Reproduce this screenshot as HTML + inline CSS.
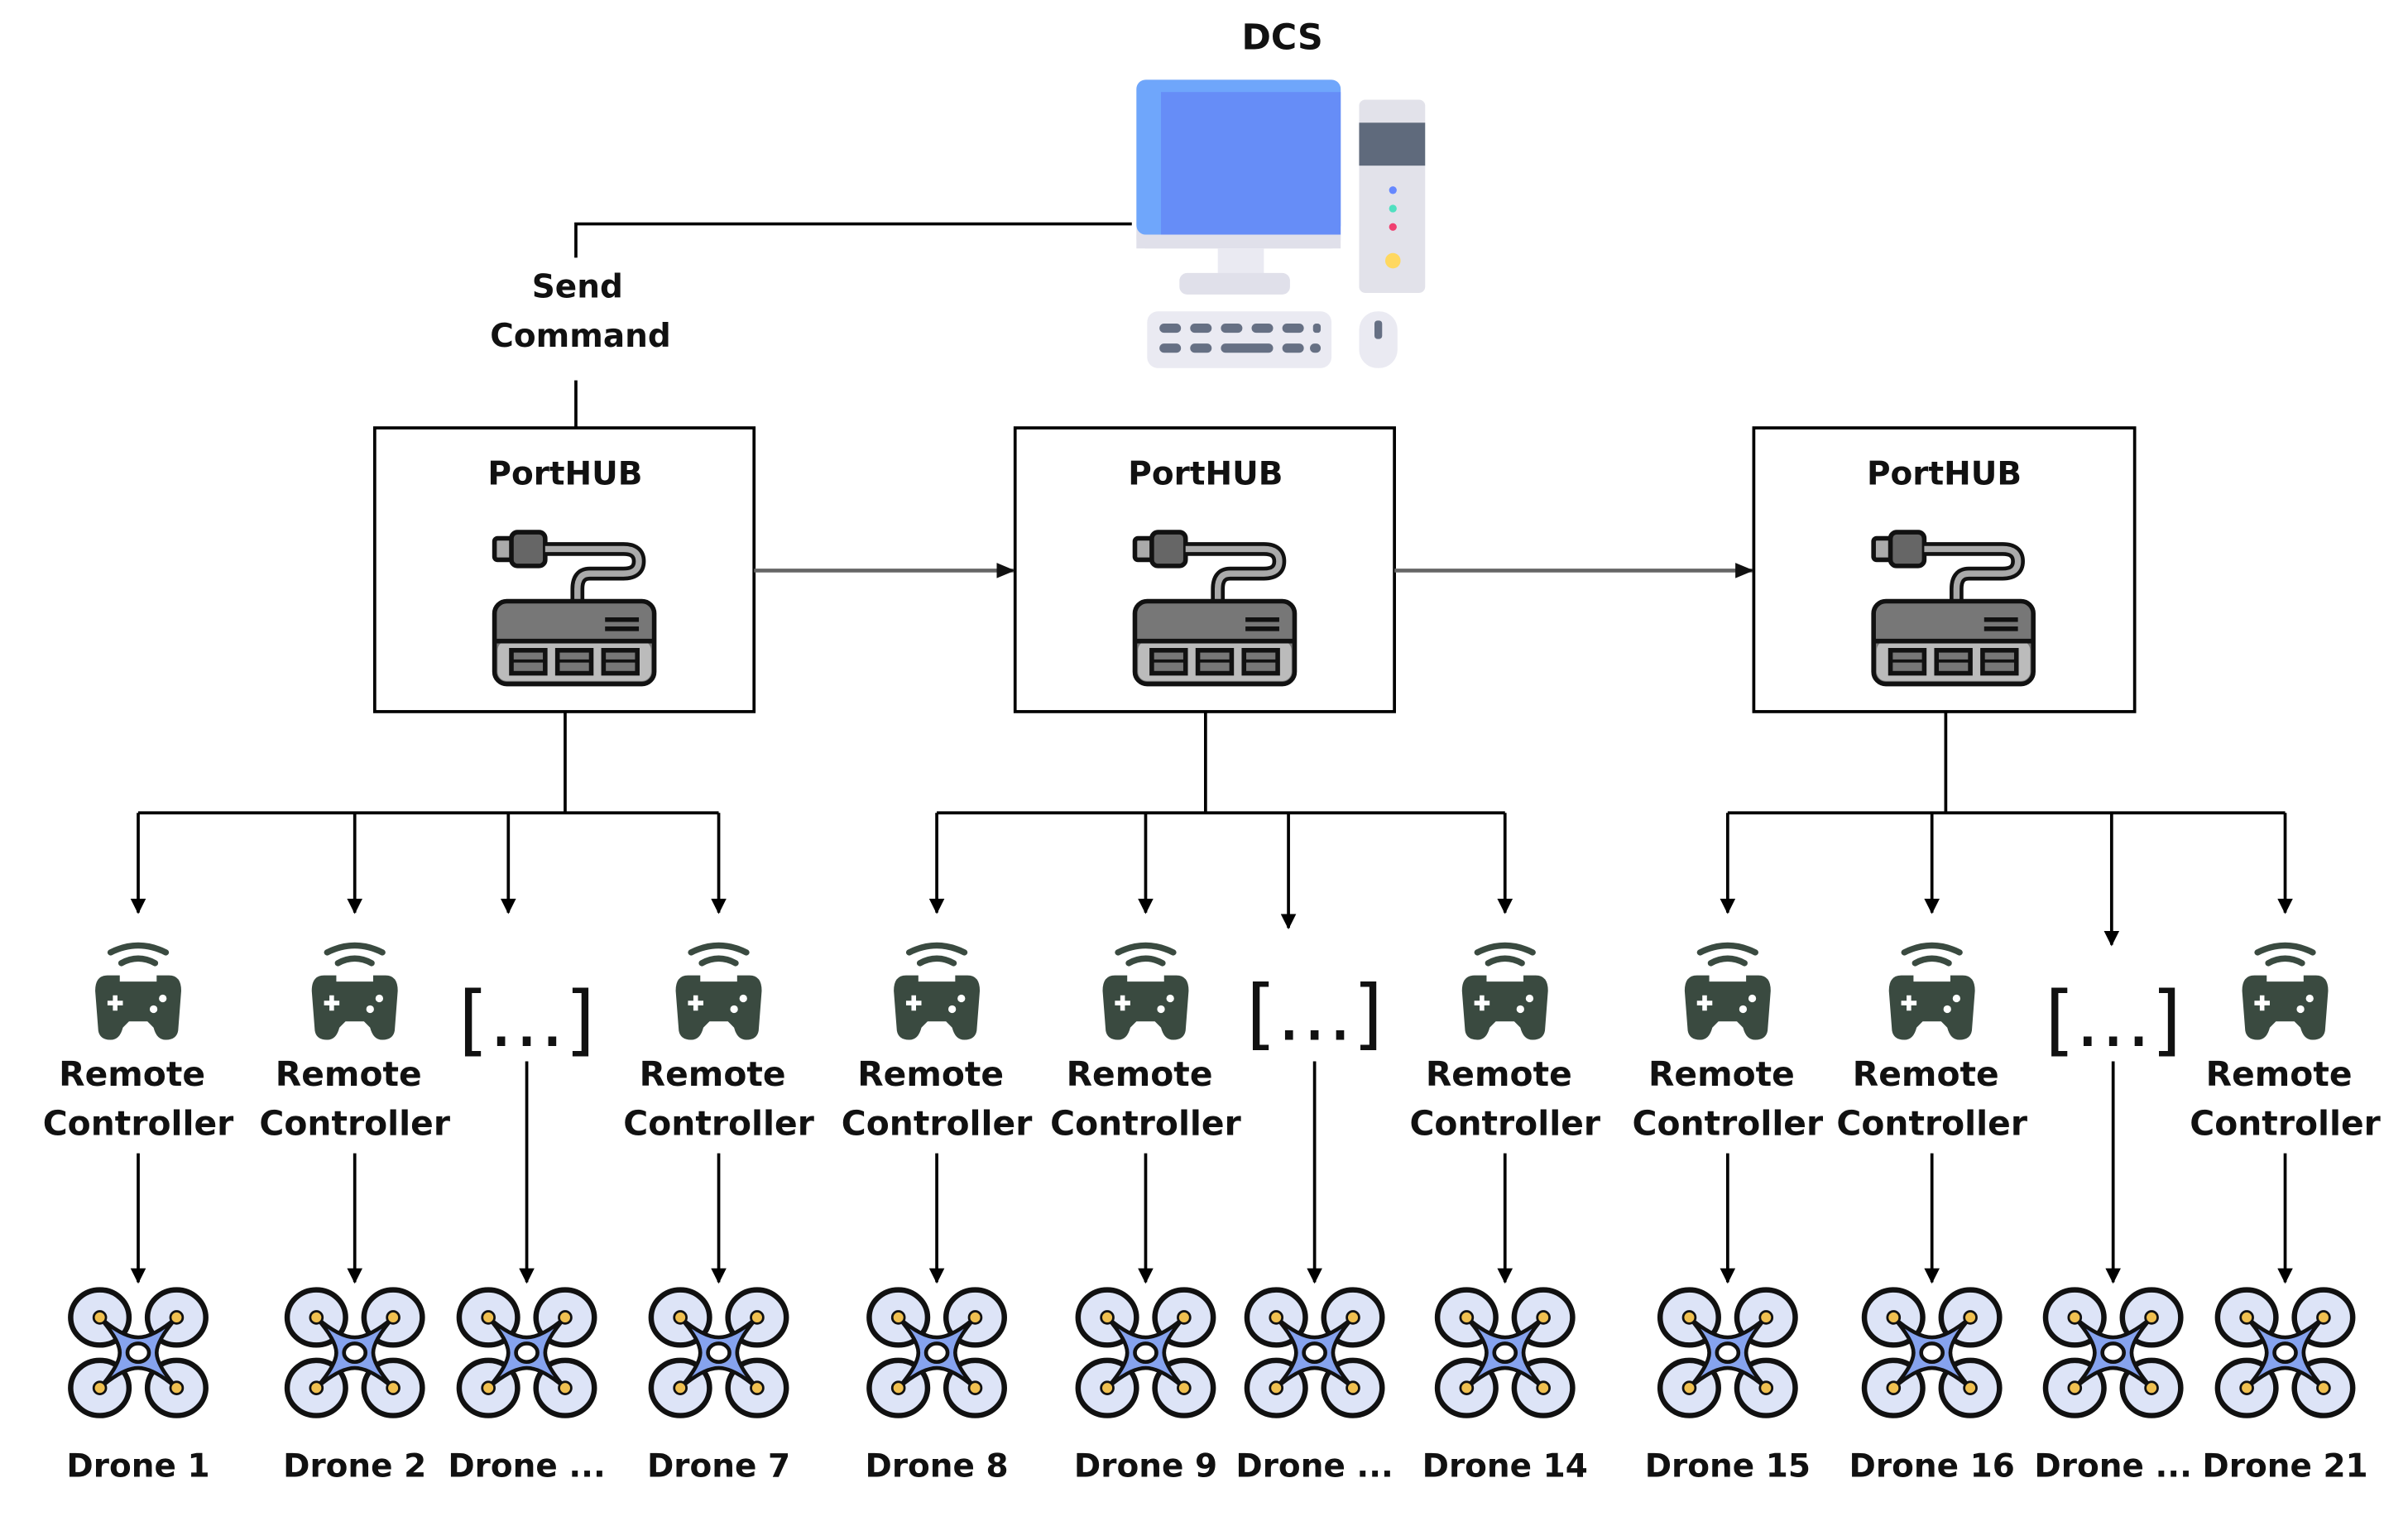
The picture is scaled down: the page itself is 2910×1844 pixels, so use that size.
<!DOCTYPE html>
<html><head><meta charset="utf-8"><style>
html,body{margin:0;padding:0;background:#fff;}
svg{display:block;}
text{font-family:"DejaVu Sans","Liberation Sans",sans-serif;font-weight:bold;fill:#111;}
</style></head><body>
<svg width="2910" height="1844" viewBox="0 0 1568 995" preserveAspectRatio="none" xmlns="http://www.w3.org/2000/svg">
<defs>
<marker id="ah" markerWidth="10" markerHeight="10" refX="9" refY="5" orient="auto" markerUnits="userSpaceOnUse">
<path d="M0,0 L10,5 L0,10 z" fill="#000"/></marker>
<marker id="ahg" markerWidth="12" markerHeight="10" refX="11" refY="5" orient="auto" markerUnits="userSpaceOnUse">
<path d="M0,0 L12,5 L0,10 z" fill="#111"/></marker>
<g id="hub">
<rect x="-52" y="-25" width="12" height="14" rx="2" fill="#aaa" stroke="#111" stroke-width="3"/>
<rect x="-41" y="-29" width="22" height="22" rx="4" fill="#666" stroke="#111" stroke-width="3"/>
<path d="M-19,-18 H32 Q42,-18 42,-10 Q42,-2 32,-2 H10 Q2,-2 2,8 V15" fill="none" stroke="#111" stroke-width="9"/>
<path d="M-19,-18 H32 Q42,-18 42,-10 Q42,-2 32,-2 H10 Q2,-2 2,8 V15" fill="none" stroke="#aaa" stroke-width="4"/>
<rect x="-52" y="16" width="104" height="54" rx="8" fill="#777" stroke="#111" stroke-width="3"/>
<rect x="-50" y="42" width="100" height="26" rx="6" fill="#bbb"/>
<line x1="-52" y1="42" x2="52" y2="42" stroke="#111" stroke-width="3"/>
<line x1="20" y1="28" x2="42" y2="28" stroke="#111" stroke-width="3"/>
<line x1="20" y1="34" x2="42" y2="34" stroke="#111" stroke-width="3"/>
<g fill="#777" stroke="#111" stroke-width="3">
<rect x="-41" y="48" width="22" height="15"/><rect x="-11" y="48" width="22" height="15"/><rect x="19" y="48" width="22" height="15"/></g>
<g stroke="#111" stroke-width="2"><line x1="-41" y1="55" x2="-19" y2="55"/><line x1="-11" y1="55" x2="11" y2="55"/><line x1="19" y1="55" x2="41" y2="55"/></g>
</g>
<g id="rc" fill="#3a4a40">
<path d="M-18,-33 Q0,-42 18,-33" fill="none" stroke="#3a4a40" stroke-width="4" stroke-linecap="round"/>
<path d="M-11,-26 Q0,-32 11,-26" fill="none" stroke="#3a4a40" stroke-width="4" stroke-linecap="round"/>
<path d="M-20,-18 Q-28,-18 -28,-8 L-26,18 Q-25,24 -18,24 Q-12,24 -10,16 L-6,12 H6 L10,16 Q12,24 18,24 Q25,24 26,18 L28,-8 Q28,-18 20,-18 H12 V-14 H-12 V-18 Z"/>
<path d="M-20,0 h10 M-15,-5 v10" stroke="#fff" stroke-width="3"/>
<circle cx="16" cy="-3" r="2.5" fill="#fff"/><circle cx="10" cy="4" r="2.5" fill="#fff"/>
</g>
<g id="dr">
<g fill="#dde4f7" stroke="#111" stroke-width="3.5">
<ellipse cx="-25" cy="-23" rx="19" ry="18"/><ellipse cx="25" cy="-23" rx="19" ry="18"/>
<ellipse cx="-25" cy="23" rx="19" ry="18"/><ellipse cx="25" cy="23" rx="19" ry="18"/></g>
<path d="M-25,-23 Q-10,-10 0,-10 Q10,-10 25,-23 Q12,-8 12,0 Q12,8 25,23 Q10,10 0,10 Q-10,10 -25,23 Q-12,8 -12,0 Q-12,-8 -25,-23 Z" fill="#86a3ee" stroke="#111" stroke-width="2.5" stroke-linejoin="round"/>
<ellipse cx="0" cy="0" rx="7" ry="6" fill="#fff" stroke="#111" stroke-width="2.5"/>
<g fill="#f0c050" stroke="#111" stroke-width="1.5">
<circle cx="-25" cy="-23" r="4"/><circle cx="25" cy="-23" r="4"/><circle cx="-25" cy="23" r="4"/><circle cx="25" cy="23" r="4"/></g>
</g>
</defs>

<!-- DCS -->
<text x="835" y="32" font-size="23" text-anchor="middle">DCS</text>
<rect x="740" y="52" width="133" height="110" rx="6" fill="#e0e0ea"/>
<rect x="740" y="52" width="133" height="101" rx="6" fill="#6fa6fb"/>
<rect x="756" y="60" width="117" height="93" fill="#668df7"/>
<rect x="740" y="153" width="133" height="9" fill="#e0e0ea"/>
<rect x="793" y="162" width="30" height="22" fill="#eaeaf2"/>
<rect x="768" y="178" width="72" height="14" rx="5" fill="#e0e0ea"/>
<rect x="885" y="65" width="43" height="126" rx="4" fill="#e2e2ea"/>
<rect x="885" y="80" width="43" height="28" fill="#5f6a7c"/>
<circle cx="907" cy="124" r="2.5" fill="#6688ff"/><circle cx="907" cy="136" r="2.5" fill="#50e0c0"/><circle cx="907" cy="148" r="2.5" fill="#f04070"/><circle cx="907" cy="170" r="5" fill="#ffd860"/>
<rect x="747" y="203" width="120" height="37" rx="7" fill="#eaeaf2"/>
<g fill="#667084"><rect x="755" y="211" width="14" height="6" rx="3"/><rect x="775" y="211" width="14" height="6" rx="3"/><rect x="795" y="211" width="14" height="6" rx="3"/><rect x="815" y="211" width="14" height="6" rx="3"/><rect x="835" y="211" width="14" height="6" rx="3"/><rect x="855" y="211" width="5" height="6" rx="2"/>
<rect x="755" y="224" width="14" height="6" rx="3"/><rect x="775" y="224" width="14" height="6" rx="3"/><rect x="795" y="224" width="34" height="6" rx="3"/><rect x="835" y="224" width="14" height="6" rx="3"/><rect x="853" y="224" width="7" height="6" rx="3"/></g>
<rect x="885" y="203" width="25" height="37" rx="12" fill="#eaeaf2"/>
<rect x="895" y="209" width="5" height="12" rx="2" fill="#667084"/>

<!-- Send command -->
<path d="M737,146 H375 V168" fill="none" stroke="#000" stroke-width="2"/>
<text x="376" y="194" font-size="21" text-anchor="middle">Send</text>
<text x="378" y="226" font-size="21" text-anchor="middle">Command</text>
<line x1="375" y1="248" x2="375" y2="279" stroke="#000" stroke-width="2"/>

<!-- Hubs -->
<g fill="#fff" stroke="#000" stroke-width="2">
<rect x="244" y="279" width="247" height="185"/>
<rect x="661" y="279" width="247" height="185"/>
<rect x="1142" y="279" width="248" height="185"/></g>
<text x="368" y="316" font-size="21" text-anchor="middle">PortHUB</text>
<text x="785" y="316" font-size="21" text-anchor="middle">PortHUB</text>
<text x="1266" y="316" font-size="21" text-anchor="middle">PortHUB</text>
<use href="#hub" transform="translate(374,376)"/>
<use href="#hub" transform="translate(791,376)"/>
<use href="#hub" transform="translate(1272,376)"/>
<line x1="491" y1="372" x2="660" y2="372" stroke="#666" stroke-width="2.5" marker-end="url(#ahg)"/>
<line x1="908" y1="372" x2="1141" y2="372" stroke="#666" stroke-width="2.5" marker-end="url(#ahg)"/>

<!-- distribution -->
<g fill="none" stroke="#000" stroke-width="2">
<path d="M368,464 V530 M90,530 H468 M785,464 V530 M610,530 H980 M1267,464 V530 M1125,530 H1488"/>
</g>
<g stroke="#000" stroke-width="2" marker-end="url(#ah)">
<line x1="90" y1="530" x2="90" y2="595"/><line x1="231" y1="530" x2="231" y2="595"/><line x1="331" y1="530" x2="331" y2="595"/><line x1="468" y1="530" x2="468" y2="595"/>
<line x1="610" y1="530" x2="610" y2="595"/><line x1="746" y1="530" x2="746" y2="595"/><line x1="839" y1="530" x2="839" y2="605"/><line x1="980" y1="530" x2="980" y2="595"/>
<line x1="1125" y1="530" x2="1125" y2="595"/><line x1="1258" y1="530" x2="1258" y2="595"/><line x1="1375" y1="530" x2="1375" y2="616"/><line x1="1488" y1="530" x2="1488" y2="595"/>
</g>

<!-- controllers -->
<use href="#rc" transform="translate(90,654)"/><use href="#rc" transform="translate(231,654)"/><use href="#rc" transform="translate(468,654)"/>
<use href="#rc" transform="translate(610,654)"/><use href="#rc" transform="translate(746,654)"/><use href="#rc" transform="translate(980,654)"/>
<use href="#rc" transform="translate(1125,654)"/><use href="#rc" transform="translate(1258,654)"/><use href="#rc" transform="translate(1488,654)"/>
<g font-size="22" text-anchor="middle">
<text x="86" y="708">Remote</text><text x="90" y="740">Controller</text>
<text x="227" y="708">Remote</text><text x="231" y="740">Controller</text>
<text x="464" y="708">Remote</text><text x="468" y="740">Controller</text>
<text x="606" y="708">Remote</text><text x="610" y="740">Controller</text>
<text x="742" y="708">Remote</text><text x="746" y="740">Controller</text>
<text x="976" y="708">Remote</text><text x="980" y="740">Controller</text>
<text x="1121" y="708">Remote</text><text x="1125" y="740">Controller</text>
<text x="1254" y="708">Remote</text><text x="1258" y="740">Controller</text>
<text x="1484" y="708">Remote</text><text x="1488" y="740">Controller</text>
</g>
<g font-size="50" text-anchor="middle">
<text x="343" y="682" style="font-weight:normal">[…]</text>
<text x="856" y="678" style="font-weight:normal">[…]</text>
<text x="1376" y="682" style="font-weight:normal">[…]</text>
</g>

<!-- controller -> drone arrows -->
<g stroke="#000" stroke-width="2" marker-end="url(#ah)">
<line x1="90" y1="752" x2="90" y2="836"/><line x1="231" y1="752" x2="231" y2="836"/><line x1="343" y1="692" x2="343" y2="836"/><line x1="468" y1="752" x2="468" y2="836"/>
<line x1="610" y1="752" x2="610" y2="836"/><line x1="746" y1="752" x2="746" y2="836"/><line x1="856" y1="692" x2="856" y2="836"/><line x1="980" y1="752" x2="980" y2="836"/>
<line x1="1125" y1="752" x2="1125" y2="836"/><line x1="1258" y1="752" x2="1258" y2="836"/><line x1="1376" y1="692" x2="1376" y2="836"/><line x1="1488" y1="752" x2="1488" y2="836"/>
</g>

<!-- drones -->
<use href="#dr" transform="translate(90,882)"/><use href="#dr" transform="translate(231,882)"/><use href="#dr" transform="translate(343,882)"/><use href="#dr" transform="translate(468,882)"/>
<use href="#dr" transform="translate(610,882)"/><use href="#dr" transform="translate(746,882)"/><use href="#dr" transform="translate(856,882)"/><use href="#dr" transform="translate(980,882)"/>
<use href="#dr" transform="translate(1125,882)"/><use href="#dr" transform="translate(1258,882)"/><use href="#dr" transform="translate(1376,882)"/><use href="#dr" transform="translate(1488,882)"/>
<g font-size="21" text-anchor="middle">
<text x="90" y="963">Drone 1</text><text x="231" y="963">Drone 2</text><text x="343" y="963">Drone ...</text><text x="468" y="963">Drone 7</text>
<text x="610" y="963">Drone 8</text><text x="746" y="963">Drone 9</text><text x="856" y="963">Drone ...</text><text x="980" y="963">Drone 14</text>
<text x="1125" y="963">Drone 15</text><text x="1258" y="963">Drone 16</text><text x="1376" y="963">Drone ...</text><text x="1488" y="963">Drone 21</text>
</g>
</svg>
</body></html>
